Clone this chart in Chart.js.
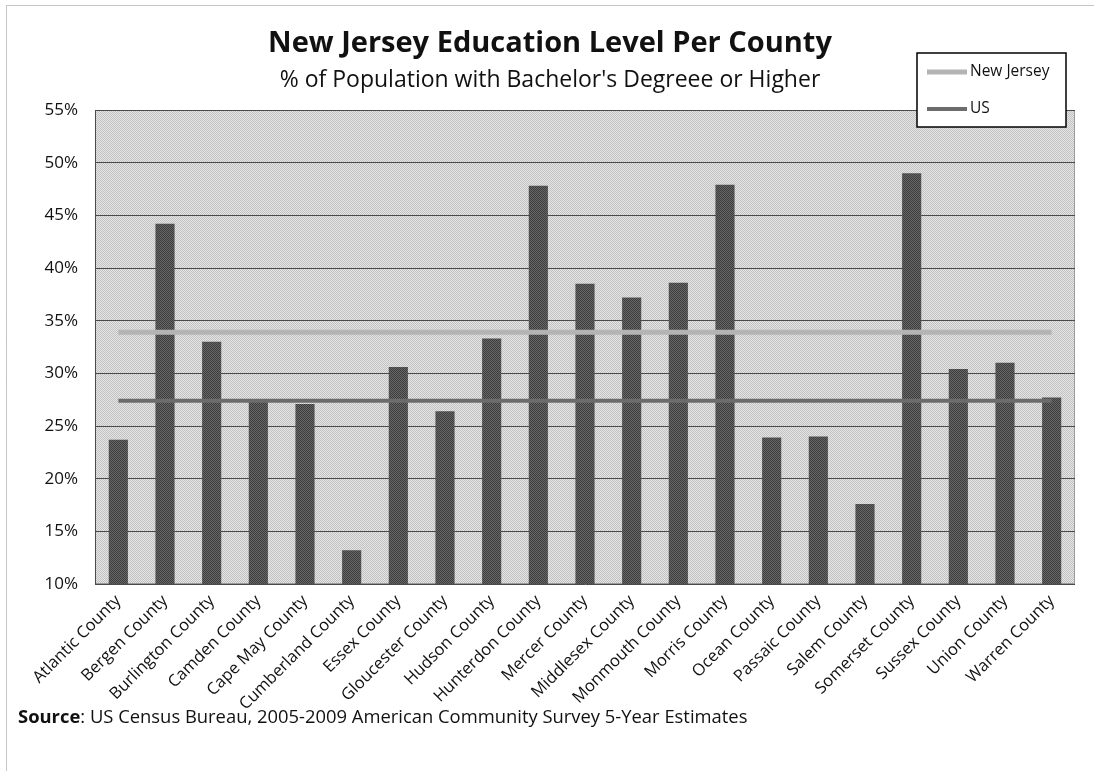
<!DOCTYPE html>
<html>
<head>
<meta charset="utf-8">
<script src="https://cdn.jsdelivr.net/npm/chart.js@4.4.1/dist/chart.umd.min.js"></script>
<style>
  html, body { margin: 0; padding: 0; background: #fff; }
  #wrap { position: relative; width: 1094px; height: 771px; }
</style>
</head>
<body>
<div id="wrap"><canvas id="c" width="1094" height="771"></canvas></div>
<script>
const counties = ["Atlantic County","Bergen County","Burlington County","Camden County","Cape May County","Cumberland County","Essex County","Gloucester County","Hudson County","Hunterdon County","Mercer County","Middlesex County","Monmouth County","Morris County","Ocean County","Passaic County","Salem County","Somerset County","Sussex County","Union County","Warren County"];
const bachelorPct = [23.7, 44.2, 33.0, 27.4, 27.1, 13.2, 30.6, 26.4, 33.3, 47.8, 38.5, 37.2, 38.6, 47.9, 23.9, 24.0, 17.6, 49.0, 30.4, 31.0, 27.7];
const newJerseyPct = [33.9, 33.9, 33.9, 33.9, 33.9, 33.9, 33.9, 33.9, 33.9, 33.9, 33.9, 33.9, 33.9, 33.9, 33.9, 33.9, 33.9, 33.9, 33.9, 33.9, 33.9];
const usPct = [27.4, 27.4, 27.4, 27.4, 27.4, 27.4, 27.4, 27.4, 27.4, 27.4, 27.4, 27.4, 27.4, 27.4, 27.4, 27.4, 27.4, 27.4, 27.4, 27.4, 27.4];
const yTicks = { min: 10, max: 55, step: 5 };
const titleText = "New Jersey Education Level Per County";
const subtitleText = "% of Population with Bachelor's Degreee or Higher";
const sourceLabel = "Source";
const sourceText = ": US Census Bureau, 2005-2009 American Community Survey 5-Year Estimates";

const FONT = "'Open Sans', Lato, sans-serif";

function checker(a, b) {
  const p = document.createElement('canvas');
  p.width = 2; p.height = 2;
  const g = p.getContext('2d');
  g.fillStyle = a; g.fillRect(0, 0, 2, 2);
  g.fillStyle = b; g.fillRect(0, 0, 1, 1); g.fillRect(1, 1, 1, 1);
  return g.createPattern(p, 'repeat');
}
const ctx = document.getElementById('c').getContext('2d');
const plotBg = checker('#e4e4e4', '#c2c2c2');
const barFill = checker('#686868', '#3c3c3c');

const decor = {
  id: 'decor',
  beforeDraw(chart) {
    const c = chart.ctx, a = chart.chartArea;
    c.save();
    c.fillStyle = '#fff';
    c.fillRect(0, 0, chart.width, chart.height);
    c.strokeStyle = '#8a8a8a';
    c.lineWidth = 1;
    c.setLineDash([1, 1]);
    c.strokeRect(6.5, 5.5, chart.width + 20, chart.height + 20);
    c.setLineDash([]);
    c.fillStyle = plotBg;
    c.fillRect(a.left, a.top, a.right - a.left, a.bottom - a.top);
    c.strokeStyle = '#9a9a9a';
    c.strokeRect(a.left + 0.5, a.top + 0.5, a.right - a.left - 1, a.bottom - a.top - 1);
    c.restore();
  },
  afterDraw(chart) {
    const c = chart.ctx;
    c.save();
    c.fillStyle = '#111';
    c.textAlign = 'center';
    c.textBaseline = 'middle';
    c.font = "bold 29px " + FONT;
    c.fillText(titleText, 550, 44);
    c.font = "23px " + FONT;
    c.fillText(subtitleText, 550, 80);
    c.textAlign = 'left';
    c.font = "bold 18.4px " + FONT;
    c.fillText(sourceLabel, 18, 718);
    const w = c.measureText(sourceLabel).width;
    c.font = "18.4px " + FONT;
    c.fillText(sourceText, 18 + w, 718);
    const bx = 917, by = 53, bw = 149, bh = 74;
    c.fillStyle = '#fff';
    c.fillRect(bx, by, bw, bh);
    c.strokeStyle = '#000';
    c.lineWidth = 1.5;
    c.strokeRect(bx, by, bw, bh);
    const lines = chart.data.datasets.filter(d => d.type === 'line');
    const ys = [72, 109];
    lines.forEach((d, i) => {
      c.strokeStyle = d.borderColor;
      c.lineWidth = d.borderWidth;
      c.beginPath();
      c.moveTo(927, ys[i]);
      c.lineTo(967, ys[i]);
      c.stroke();
      c.fillStyle = '#111';
      c.font = "15.5px " + FONT;
      c.textBaseline = 'middle';
      c.fillText(d.label, 970, ys[i]);
    });
    c.restore();
  }
};

new Chart(ctx, {
  data: {
    labels: counties,
    datasets: [
      { type: 'line', label: 'New Jersey', data: newJerseyPct, borderColor: '#b4b4b4', borderWidth: 5, pointRadius: 0, order: 0 },
      { type: 'line', label: 'US', data: usPct, borderColor: '#6c6c6c', borderWidth: 4, pointRadius: 0, order: 1 },
      { type: 'bar', label: "Bachelor's Degree or Higher", data: bachelorPct, backgroundColor: barFill, borderWidth: 0, barPercentage: 0.41, categoryPercentage: 1.0, order: 2 }
    ]
  },
  options: {
    responsive: false,
    animation: false,
    events: [],
    layout: { padding: { top: 110, right: 19, left: 0, bottom: 0 } },
    plugins: { legend: { display: false }, title: { display: false }, tooltip: { enabled: false } },
    scales: {
      x: {
        afterFit(s) { s.height = 187; },
        grid: { display: false, drawTicks: false },
        border: { display: false },
        ticks: { autoSkip: false, minRotation: 45, maxRotation: 45, padding: 7, color: '#111', font: { family: FONT, size: 16.5 } }
      },
      y: {
        min: yTicks.min, max: yTicks.max,
        afterFit(s) { s.width = 95; },
        grid: { color: '#4a4a4a', lineWidth: 1, drawTicks: false },
        border: { display: true, color: '#4a4a4a' },
        ticks: { stepSize: yTicks.step, padding: 17, color: '#111', font: { family: FONT, size: 17 }, callback: v => v + '%' }
      }
    }
  },
  plugins: [decor]
});
</script>
</body>
</html>
